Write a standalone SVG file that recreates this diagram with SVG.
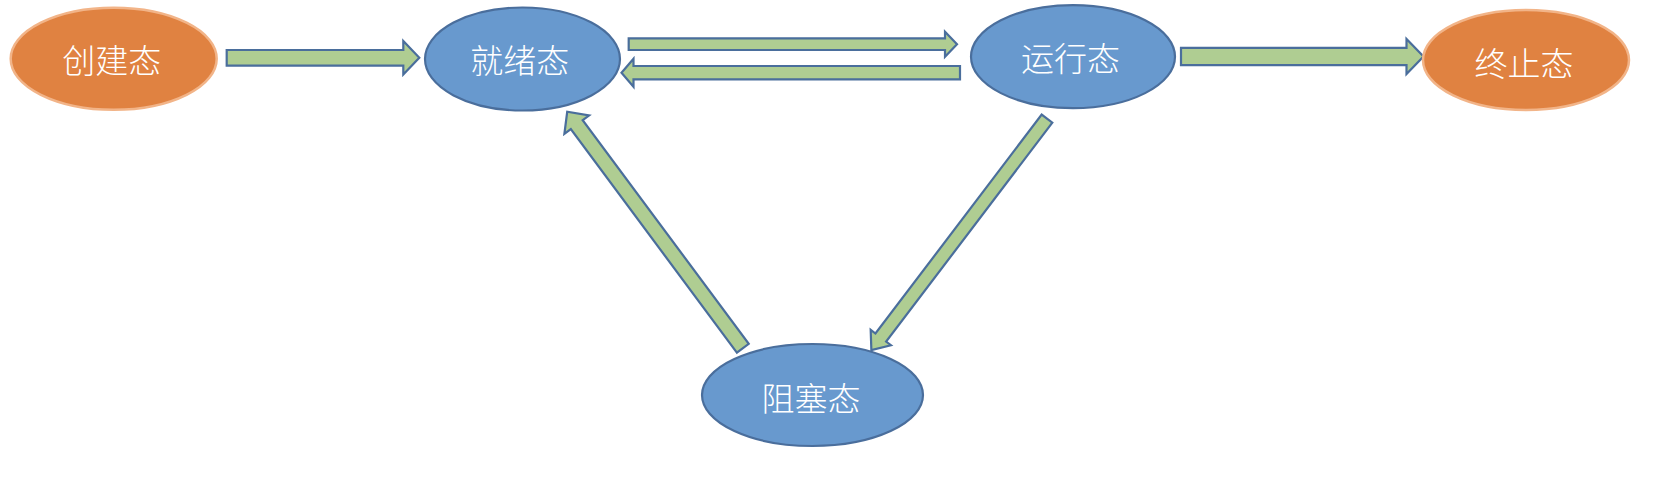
<svg xmlns="http://www.w3.org/2000/svg" width="1668" height="488" viewBox="0 0 1668 488">
<style>
.blue{fill:#6899CE;stroke:#4A6E9C;stroke-width:2.2}
.orange{fill:#E08241;stroke:#F2B488;stroke-width:2.5}
.arrow{fill:#AFCD92;stroke:#4A6E9C;stroke-width:2.2;stroke-linejoin:miter}
.lbl{font-family:"Noto Sans CJK SC","Noto Sans",sans-serif;font-size:33px;fill:#FFFFFF;text-anchor:middle;dominant-baseline:central;font-weight:300}
</style>
<rect width="1668" height="488" fill="#FFFFFF"/>
<g id="connectors">
<polygon class="arrow" points="226.7,50 403.3,50 403.3,41.1 419.3,57.8 403.3,74.5 403.3,65.6 226.7,65.6"/>
<polygon class="arrow" points="628.7,38.4 945,38.4 945,31.7 957,44.2 945,56.7 945,50 628.7,50"/>
<polygon class="arrow" points="960,66 633.5,66 633.5,58.7 621.5,72.7 633.5,86.7 633.5,79.4 960,79.4"/>
<polygon class="arrow" points="1181,47.8 1406.5,47.8 1406.5,39 1423.5,56.5 1406.5,74 1406.5,65.2 1181,65.2"/>
<polygon class="arrow" transform="translate(1047,118.6) rotate(127.2)" points="0,-6.7 274.9,-6.7 274.9,-12.7 290.5,0 274.9,12.7 274.9,6.7 0,6.7"/>
<polygon class="arrow" transform="translate(742.8,348.2) rotate(-126.6)" points="0,-7.4 278.5,-7.4 278.5,-15.4 294.5,0 278.5,15.4 278.5,7.4 0,7.4"/>
</g>
<g id="node-create">
<ellipse class="orange" cx="113.7" cy="58.7" rx="103" ry="51"/>
<text class="lbl" x="111.7" y="58.5">创建态</text>
</g>
<g id="node-ready">
<ellipse class="blue" cx="522.5" cy="59" rx="97.5" ry="51.5"/>
<text class="lbl" x="519.8" y="58.5">就绪态</text>
</g>
<g id="node-running">
<ellipse class="blue" cx="1073" cy="56.7" rx="102" ry="51.5"/>
<text class="lbl" x="1070.5" y="56.7">运行态</text>
</g>
<g id="node-terminated">
<ellipse class="orange" cx="1526" cy="60" rx="103" ry="50"/>
<text class="lbl" x="1524" y="61.5">终止态</text>
</g>
<g id="node-blocked">
<ellipse class="blue" cx="812.5" cy="395" rx="110.5" ry="51"/>
<text class="lbl" x="811" y="397">阻塞态</text>
</g>
</svg>
